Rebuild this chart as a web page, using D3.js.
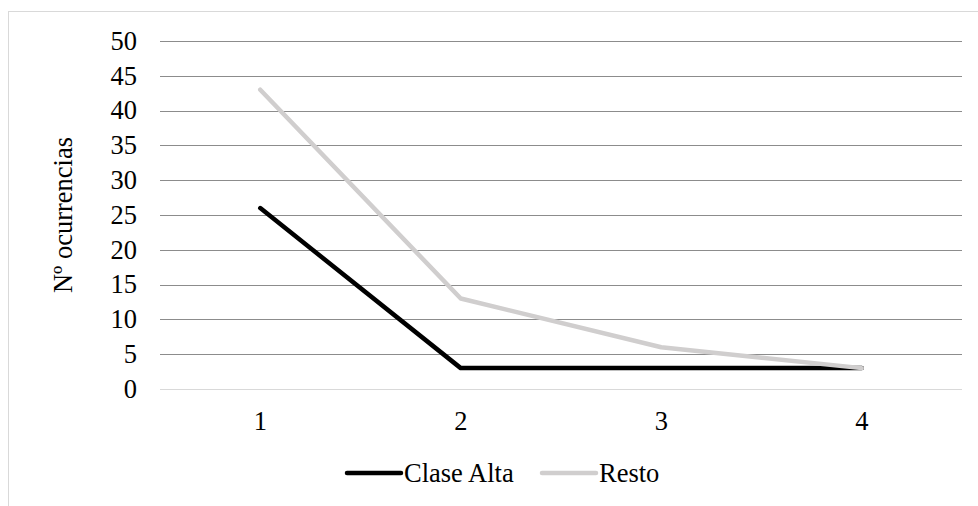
<!DOCTYPE html>
<html lang="es">
<head>
<meta charset="UTF-8" />
<title>Nº ocurrencias</title>
<style>
  html, body { margin: 0; padding: 0; background: #fff; }
  svg { display: block; }
  svg text { font-family: "Liberation Serif", "DejaVu Serif", "Times New Roman", Times, serif; }
</style>
</head>
<body>
<script src="https://d3js.org/d3.v7.min.js"></script>
<script>
  const categories = ["1", "2", "3", "4"];
  const claseAlta = [26, 3, 3, 3];
  const resto = [43, 13, 6, 3];
  const yTicks = [0, 5, 10, 15, 20, 25, 30, 35, 40, 45, 50];
  const seriesNames = ["Clase Alta", "Resto"];
  const seriesColors = ["#000000", "#d0cece"];

  const width = 978, height = 506;
  const margin = {top: 41, right: 16, bottom: 117, left: 160};
  const fontFamily = "'Liberation Serif', 'DejaVu Serif', serif";
  const fontSize = 26.5;

  const svg = d3.select("body").append("svg")
    .attr("width", width)
    .attr("height", height)
    .attr("font-family", fontFamily);

  // frame (cut by the picture on the right and bottom)
  svg.append("rect")
    .attr("x", 8.5).attr("y", 11.5)
    .attr("width", 1000).attr("height", 600)
    .attr("fill", "none").attr("stroke", "#d9d9d9");

  const x = d3.scaleBand()
    .domain(categories)
    .range([margin.left, width - margin.right]);

  const y = d3.scaleLinear()
    .domain([0, 50])
    .range([389, margin.top]);

  // gridlines
  svg.append("g")
    .selectAll("line")
    .data(yTicks)
    .join("line")
      .attr("x1", margin.left)
      .attr("x2", width - margin.right)
      .attr("y1", d => Math.round(y(d)) + 0.5)
      .attr("y2", d => Math.round(y(d)) + 0.5)
      .attr("stroke", d => d === 0 ? "#d9d9d9" : "#8c8c8c")
      .attr("stroke-width", 1.2);

  // y labels
  svg.append("g")
    .selectAll("text")
    .data(yTicks)
    .join("text")
      .attr("x", 137)
      .attr("y", d => y(d))
      .attr("dy", "0.33em")
      .attr("text-anchor", "end")
      .attr("font-size", fontSize)
      .attr("font-family", fontFamily)
      .attr("fill", "#000")
      .text(d => d);

  // x labels
  svg.append("g")
    .selectAll("text")
    .data(categories)
    .join("text")
      .attr("x", d => x(d) + x.bandwidth() / 2)
      .attr("y", 421)
      .attr("dy", "0.33em")
      .attr("text-anchor", "middle")
      .attr("font-size", fontSize)
      .attr("font-family", fontFamily)
      .text(d => d);

  // y title
  svg.append("text")
    .attr("transform", "translate(63,215) rotate(-90)")
    .attr("dy", "0.33em")
    .attr("text-anchor", "middle")
    .attr("font-size", fontSize)
    .attr("font-family", fontFamily)
    .text("Nº ocurrencias");

  const line = d3.line()
    .x((d, i) => x(categories[i]) + x.bandwidth() / 2)
    .y(d => y(d));

  [claseAlta, resto].forEach((vals, k) => {
    svg.append("path")
      .datum(vals)
      .attr("d", line)
      .attr("fill", "none")
      .attr("stroke", seriesColors[k])
      .attr("stroke-width", 4.5)
      .attr("stroke-linecap", "round")
      .attr("stroke-linejoin", "round");
  });

  // legend
  const legendX = [347, 542];
  const legend = svg.append("g")
    .selectAll("g")
    .data(seriesNames)
    .join("g")
      .attr("transform", (d, i) => `translate(${legendX[i]},473)`);

  legend.append("line")
    .attr("x1", 0).attr("x2", 54)
    .attr("stroke", (d, i) => seriesColors[i])
    .attr("stroke-width", 4.5)
    .attr("stroke-linecap", "round");

  legend.append("text")
    .attr("x", 57)
    .attr("dy", "0.33em")
    .attr("font-size", fontSize)
    .attr("font-family", fontFamily)
    .text(d => d);
</script>
</body>
</html>
